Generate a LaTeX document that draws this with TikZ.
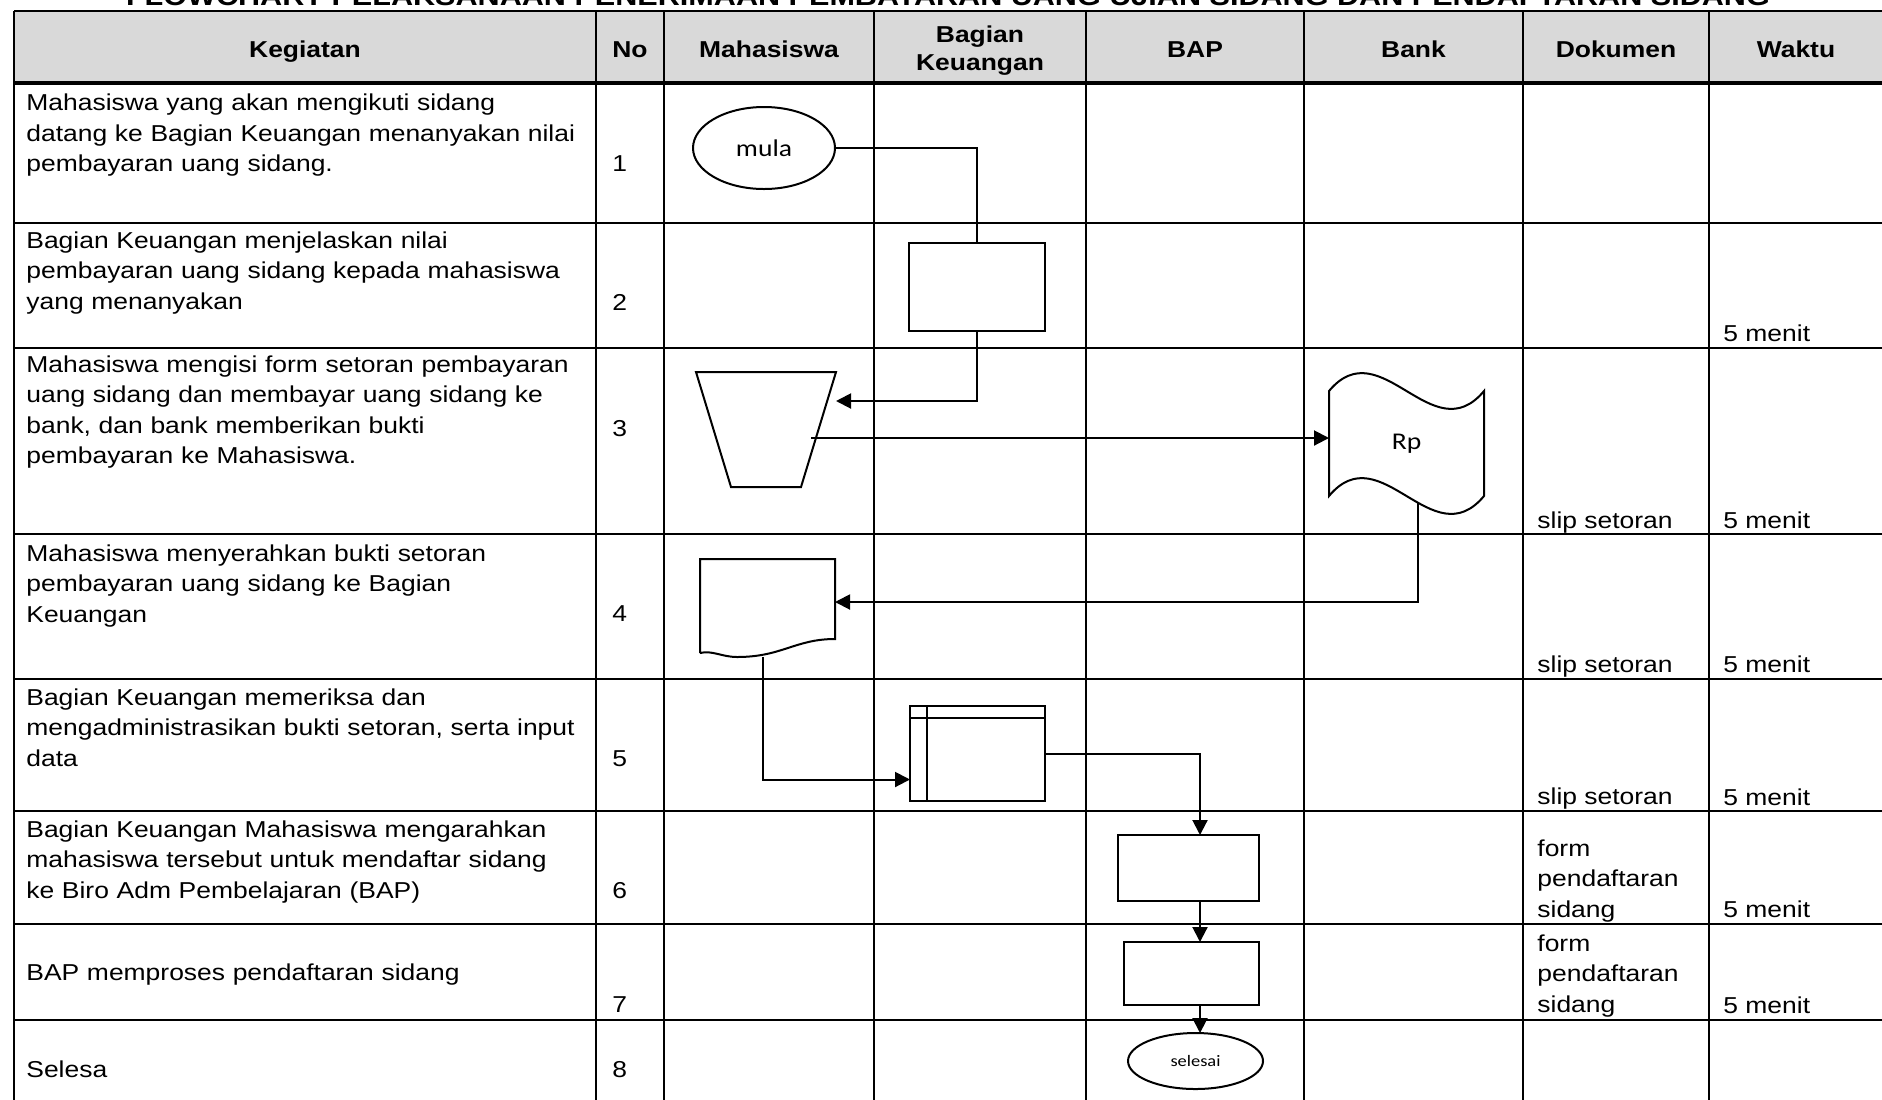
\documentclass[tikz,border=0pt]{standalone}
\usepackage{fontspec}
\setmainfont{Liberation Sans}[FakeStretch=1.15]
\newfontfamily\calibrifont{Carlito}[FakeStretch=1.15]
\usepackage{tikz}
\usetikzlibrary{arrows.meta, shapes.geometric, positioning, calc}
\definecolor{headgray}{RGB}{217,217,217}
\newcommand\cellfont{\fontsize{11.5}{15.3}\selectfont}
\newcommand\headfont{\fontsize{11.5}{14.4}\selectfont\bfseries}
\tikzset{
  % table styles
  grid/.style={line width=1pt},
  headtext/.style={inner sep=0, font=\headfont},
  titletext/.style={inner sep=0, font=\fontsize{13.3}{15}\selectfont\bfseries},
  celltext/.style={anchor=base west, inner sep=0, text width=320pt, align=left, font=\cellfont},
  numtext/.style={anchor=base west, inner sep=0, font=\cellfont},
  % flowchart styles
  proc/.style={rectangle, draw, line width=1pt, inner sep=0, outer sep=0},
  blank/.style={rectangle, inner sep=0, outer sep=0},
  terminal/.style={ellipse, draw, line width=1pt, inner sep=0, outer sep=0},
  shapeline/.style={line width=1pt, line join=miter},
  link/.style={line width=1pt},
  arrow/.style={-{Triangle[length=7.5pt, width=7.5pt]}, line width=1pt},
}

\begin{document}
\begin{tikzpicture}[x=0.5pt, y=-0.5pt]
    \useasboundingbox (0,0) rectangle (1882,1099);

    % Title, cut by the top edge
    \node[titletext, anchor=base] (title) at (948,5) {FLOWCHART PELAKSANAAN PENERIMAAN PEMBAYARAN UANG UJIAN SIDANG DAN PENDAFTARAN SIDANG};

    % Table
    \fill[headgray] (14,11) rectangle (1890,83);
    \draw[grid] (14,11) -- (1890,11);
    \draw[line width=1.6pt] (14,83) -- (1890,83);
    \foreach \y in {223,348,534,679,811,924,1020}
      \draw[grid] (14,\y) -- (1890,\y);
    \foreach \x in {14,596,664,874,1086,1304,1523,1709}
      \draw[grid] (\x,11) -- (\x,1110);

    % Headings
    \node[headtext, anchor=base] (hkeg) at (305,57) {Kegiatan};
    \node[headtext, anchor=base] (hno) at (630,57) {No};
    \node[headtext, anchor=base] (hmhs) at (769,57) {Mahasiswa};
    \node[headtext, anchor=base, text width=100pt, align=center] (hkeu) at (980,42) {Bagian\\Keuangan};
    \node[headtext, anchor=base] (hbap) at (1195,57) {BAP};
    \node[headtext, anchor=base] (hbank) at (1413.5,57) {Bank};
    \node[headtext, anchor=base] (hdok) at (1616,57) {Dokumen};
    \node[headtext, anchor=base] (hwkt) at (1796,57) {Waktu};

    % Kegiatan
    \node[celltext] (k1) at (26,110.5) {Mahasiswa yang akan mengikuti sidang\\datang ke Bagian Keuangan menanyakan nilai\\pembayaran uang sidang.};
    \node[celltext] (k2) at (26,248) {Bagian Keuangan menjelaskan nilai\\pembayaran uang sidang kepada mahasiswa\\yang menanyakan};
    \node[celltext] (k3) at (26,372) {Mahasiswa mengisi form setoran pembayaran\\uang sidang dan membayar uang sidang ke\\bank, dan bank memberikan bukti\\pembayaran ke Mahasiswa.};
    \node[celltext] (k4) at (26,561) {Mahasiswa menyerahkan bukti setoran\\pembayaran uang sidang ke Bagian\\Keuangan};
    \node[celltext] (k5) at (26,705) {Bagian Keuangan memeriksa dan\\mengadministrasikan bukti setoran, serta input\\data};
    \node[celltext] (k6) at (26,837) {Bagian Keuangan Mahasiswa mengarahkan\\mahasiswa tersebut untuk mendaftar sidang\\ke Biro Adm Pembelajaran (BAP)};
    \node[celltext] (k7) at (26,980) {BAP memproses pendaftaran sidang};
    \node[celltext] (k8) at (26,1077) {Selesa};

    % No
    \foreach \y [count=\i] in {171,310,436,621,766,898,1012,1077}
      \node[numtext] (n\i) at (612,\y) {\i};

    % Dokumen
    \node[numtext] (d3) at (1537,528) {slip setoran};
    \node[numtext] (d4) at (1537,672) {slip setoran};
    \node[numtext] (d5) at (1537,804) {slip setoran};
    \node[celltext, text width=100pt] (d6) at (1537,856) {form\\pendaftaran\\sidang};
    \node[celltext, text width=100pt] (d7) at (1537,951) {form\\pendaftaran\\sidang};

    % Waktu
    \foreach \y [count=\i from 2] in {341,528,672,805,917,1013}
      \node[numtext] (w\i) at (1723,\y) {5 menit};

    % Flowchart shapes
    \node[terminal, minimum width=71pt, minimum height=41pt, font=\calibrifont\fontsize{12}{14}\selectfont] (mula) at (764,148) {mula};
    \node[proc, minimum width=68pt, minimum height=44pt] (keu1) at (977,287) {};

    \node[blank, minimum width=70pt, minimum height=57.5pt] (form) at (766,429.5) {};
    \draw[shapeline] (form.north west) -- (form.north east) -- ([xshift=-17.5pt]form.south east) -- ([xshift=17.5pt]form.south west) -- cycle;

    \node[blank, minimum width=77.5pt, minimum height=52.5pt, font=\calibrifont\fontsize{12}{14}\selectfont] (bank) at (1406.5,443.5) {Rp};
    \draw[shapeline] (bank.north west) .. controls +(51.7,-62) and +(-51.7,62) .. (bank.north east) -- (bank.south east) .. controls +(-51.7,62) and +(51.7,-62) .. (bank.south west) -- cycle;

    \node[blank, minimum width=67.5pt, minimum height=49pt] (slip) at (767.5,608) {};
    \draw[shapeline] ([yshift=2pt]slip.south west) -- (slip.north west) -- (slip.north east) -- ([yshift=9pt]slip.south east) .. controls +(-40,0) and +(45,0) .. ([xshift=18.5pt]slip.south west) .. controls +(-15,0) and +(12,-3) .. ([yshift=2pt]slip.south west);

    \node[proc, minimum width=67.5pt, minimum height=47.5pt] (input) at (977.5,753.5) {};
    \draw[shapeline] ([xshift=8.5pt]input.north west) -- ([xshift=8.5pt]input.south west);
    \draw[shapeline] ([yshift=-6pt]input.north west) -- ([yshift=-6pt]input.north east);

    \node[proc, minimum width=70.5pt, minimum height=33pt] (bap1) at (1188.5,868) {};
    \node[proc, minimum width=67.5pt, minimum height=31.5pt] (bap2) at (1191.5,973.5) {};
    \node[terminal, minimum width=67.5pt, minimum height=28pt, font=\calibrifont\fontsize{8}{9}\selectfont] (selesai) at (1195.5,1061) {selesai};

    % Connectors
    \draw[link] (mula.east) -| (keu1.north);
    \draw[arrow] (keu1.south) |- ([yshift=-14.5pt]form.north east);
    \coordinate (formout) at ([xshift=22.5pt,yshift=-4.25pt]form.center);
    \draw[arrow] (formout) -- (formout -| bank.west);
    \draw[arrow] ([xshift=5.75pt,yshift=-3.35pt]bank.south) |- ([yshift=3pt]slip.east);
    \draw[arrow] ([xshift=-2.25pt]slip.south) |- ([yshift=-13pt]input.west);
    \coordinate (bapline) at (1200,0);
    \draw[arrow] (input.east) -| (bapline |- bap1.north);
    \draw[arrow] (bapline |- bap1.south) -- (bapline |- bap2.north);
    \draw[arrow] (bapline |- bap2.south) -- (bapline |- selesai.north);
\end{tikzpicture}
\end{document}
